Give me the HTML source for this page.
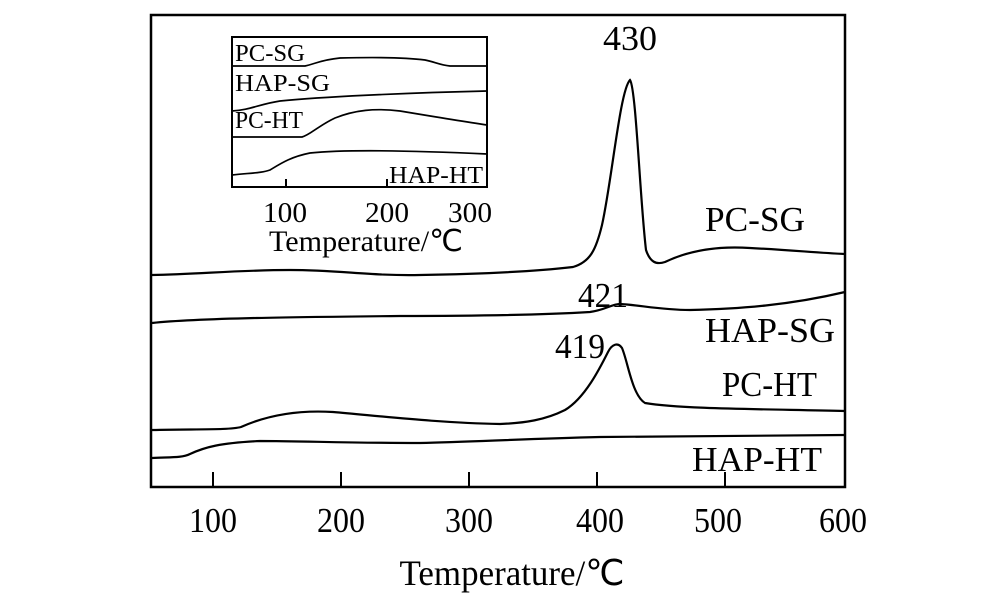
<!DOCTYPE html>
<html><head><style>body{margin:0;background:#fff}</style></head><body>
<svg width="1000" height="607" viewBox="0 0 1000 607" xmlns="http://www.w3.org/2000/svg" font-family="Liberation Serif, serif" fill="none" stroke="#000">
<rect x="151" y="15" width="694" height="472" stroke-width="2.5"/>
<g stroke-width="2">
<line x1="213" y1="487" x2="213" y2="472"/><line x1="341" y1="487" x2="341" y2="472"/><line x1="469" y1="487" x2="469" y2="472"/><line x1="597" y1="487" x2="597" y2="472"/><line x1="725" y1="487" x2="725" y2="472"/>
</g>
<g stroke-width="2.2">
<path d="M152,275 C200,274 240,270 290,270 C340,270 370,276 420,275 C480,274 530,272 573,267 C590,262 596,250 602,225 C612,180 620,90 630,80 C636,88 640,200 646,250 C650,262 656,265 665,262 C690,250 720,246 750,248 C790,250 820,253 845,254"/>
<path d="M152,323 C200,318 300,317 400,316 C480,316 540,315 590,312 C605,310 612,304 620,304 C640,305 660,310 690,310 C740,309 790,305 845,292"/>
<path d="M152,430 C200,429 230,430 241,427 C270,414 300,410 333,412 C380,416 440,423 500,424 C525,423 545,420 565,410 C585,398 600,368 608,352 C612,344 618,342 622,348 C628,362 632,395 645,403 C680,409 760,409 845,411"/>
<path d="M152,458 C170,457 182,458 190,454 C205,447 220,443 260,441 C300,441 350,443 420,443 C470,442 520,439 600,437 C700,436 780,436 845,435"/>
</g>
<rect x="232" y="37" width="255" height="150" stroke-width="2"/>
<line x1="286" y1="187" x2="286" y2="179" stroke-width="2"/><line x1="387" y1="187" x2="387" y2="179" stroke-width="2"/>
<g stroke-width="1.7">
<path d="M232,66 L305,66 C315,64 320,60 340,58 C380,57 410,58 425,60 C435,62 440,65 450,66 L487,66"/>
<path d="M232,111 C250,110 260,104 280,101 C320,97 400,93 487,91"/>
<path d="M232,137 L302,137 C310,135 318,126 335,118 C355,110 375,108 400,111 C430,116 460,121 487,125"/>
<path d="M232,175 C250,173 262,173 270,170 C280,164 290,157 310,153 C340,150 400,150 487,154"/>
</g>
<g fill="#000" stroke="none" font-size="24">
<text x="235" y="61" textLength="70" lengthAdjust="spacingAndGlyphs">PC-SG</text>
<text x="235" y="91" textLength="95" lengthAdjust="spacingAndGlyphs">HAP-SG</text>
<text x="235" y="128" textLength="68" lengthAdjust="spacingAndGlyphs">PC-HT</text>
<text x="389" y="183" textLength="94" lengthAdjust="spacingAndGlyphs">HAP-HT</text>
<text x="285" y="222" font-size="29" text-anchor="middle" textLength="44" lengthAdjust="spacingAndGlyphs">100</text>
<text x="387" y="222" font-size="29" text-anchor="middle" textLength="44" lengthAdjust="spacingAndGlyphs">200</text>
<text x="470" y="222" font-size="29" text-anchor="middle" textLength="44" lengthAdjust="spacingAndGlyphs">300</text>
<text x="366" y="251" font-size="30" text-anchor="middle" textLength="194" lengthAdjust="spacingAndGlyphs">Temperature/℃</text>
</g>
<g fill="#000" stroke="none" font-size="35">
<text x="630" y="50" text-anchor="middle" textLength="54" lengthAdjust="spacingAndGlyphs">430</text>
<text x="603" y="307" text-anchor="middle" textLength="50" lengthAdjust="spacingAndGlyphs">421</text>
<text x="580" y="358" text-anchor="middle" textLength="50" lengthAdjust="spacingAndGlyphs">419</text>
<text x="705" y="231" textLength="100" lengthAdjust="spacingAndGlyphs">PC-SG</text>
<text x="705" y="342" textLength="130" lengthAdjust="spacingAndGlyphs">HAP-SG</text>
<text x="722" y="396" textLength="95" lengthAdjust="spacingAndGlyphs">PC-HT</text>
<text x="692" y="471" textLength="130" lengthAdjust="spacingAndGlyphs">HAP-HT</text>
<text x="213" y="532" text-anchor="middle" textLength="48" lengthAdjust="spacingAndGlyphs">100</text>
<text x="341" y="532" text-anchor="middle" textLength="48" lengthAdjust="spacingAndGlyphs">200</text>
<text x="469" y="532" text-anchor="middle" textLength="48" lengthAdjust="spacingAndGlyphs">300</text>
<text x="600" y="532" text-anchor="middle" textLength="48" lengthAdjust="spacingAndGlyphs">400</text>
<text x="718" y="532" text-anchor="middle" textLength="48" lengthAdjust="spacingAndGlyphs">500</text>
<text x="843" y="532" text-anchor="middle" textLength="48" lengthAdjust="spacingAndGlyphs">600</text>
<text x="512" y="585" font-size="36" text-anchor="middle" textLength="225" lengthAdjust="spacingAndGlyphs">Temperature/℃</text>
</g>
</svg>
</body></html>
